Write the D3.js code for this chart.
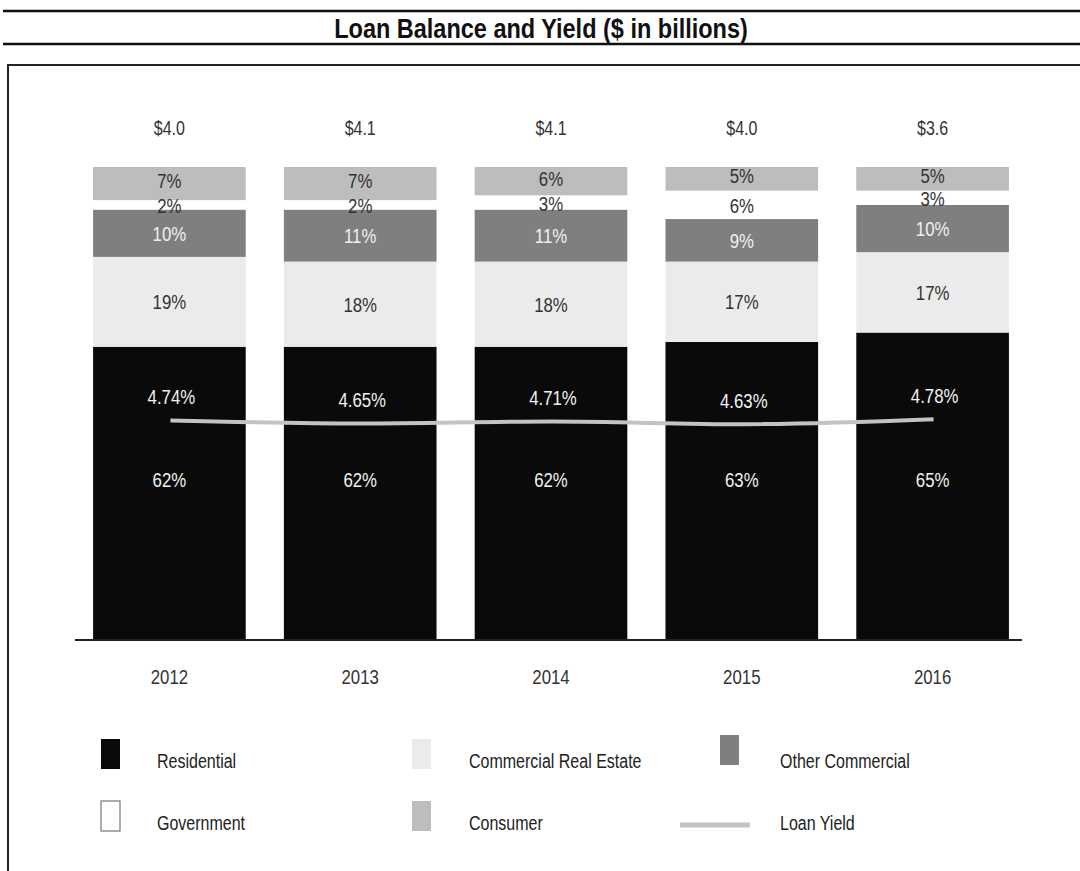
<!DOCTYPE html>
<html>
<head>
<meta charset="utf-8">
<script src="https://cdn.jsdelivr.net/npm/d3@7"></script>
<style>
  html, body { margin: 0; padding: 0; background: #fff; }
  svg { display: block; }
  text { font-family: "Liberation Sans Narrow", "Arial Narrow", "Liberation Sans", Arial, sans-serif; }
</style>
</head>
<body>
<svg id="chart" width="1080" height="871"></svg>
<script>
const years = ["2012", "2013", "2014", "2015", "2016"];
const totals = [4.0, 4.1, 4.1, 4.0, 3.6];
const residential = [62, 62, 62, 63, 65];
const commercialRealEstate = [19, 18, 18, 17, 17];
const otherCommercial = [10, 11, 11, 9, 10];
const government = [2, 2, 3, 6, 3];
const consumer = [7, 7, 6, 5, 5];
const loanYield = [4.74, 4.65, 4.71, 4.63, 4.78];
const seriesNames = ["Residential", "Commercial Real Estate", "Other Commercial", "Government", "Consumer"];

const fills = {
  "Residential": "#0a0a0a",
  "Commercial Real Estate": "#ebebeb",
  "Other Commercial": "#7f7f7f",
  "Government": "#ffffff",
  "Consumer": "#bdbdbd"
};
const labelColors = {
  "Residential": "#f2f2f2",
  "Commercial Real Estate": "#333333",
  "Other Commercial": "#f0f0f0",
  "Government": "#333333",
  "Consumer": "#333333"
};
const labelShift = {
  "Residential": 0,
  "Commercial Real Estate": 0,
  "Other Commercial": 0,
  "Government": 1,
  "Consumer": -3
};

const rows = years.map((y, i) => ({
  year: y,
  "Residential": residential[i],
  "Commercial Real Estate": commercialRealEstate[i],
  "Other Commercial": otherCommercial[i],
  "Government": government[i],
  "Consumer": consumer[i],
  total: totals[i],
  yield: loanYield[i]
}));

const svg = d3.select("#chart");

// condensed text helper: places text at (x,y) and squeezes horizontally
function ctext(parent, x, y, str, opts) {
  const o = Object.assign({ size: 20, sx: 0.82, anchor: "middle", fill: "#333", weight: "normal", dy: "0.35em" }, opts || {});
  return parent.append("text")
    .attr("transform", `translate(${x},${y}) scale(${o.sx},1)`)
    .attr("text-anchor", o.anchor)
    .attr("dy", o.dy)
    .attr("font-size", o.size)
    .attr("font-weight", o.weight)
    .attr("fill", o.fill)
    .text(str);
}

// frame lines
svg.append("line").attr("x1", 3).attr("x2", 1080).attr("y1", 11).attr("y2", 11)
  .attr("stroke", "#111").attr("stroke-width", 2.5);
svg.append("line").attr("x1", 3).attr("x2", 1080).attr("y1", 44).attr("y2", 44)
  .attr("stroke", "#111").attr("stroke-width", 2.5);
svg.append("path").attr("d", "M8,871 V65 H1080")
  .attr("fill", "none").attr("stroke", "#222").attr("stroke-width", 2);

ctext(svg, 541, 38, "Loan Balance and Yield ($ in billions)",
  { size: 27, sx: 0.87, weight: "bold", fill: "#111", dy: 0 });

const x = d3.scaleBand().domain(years).range([74, 1028]).paddingInner(0.2).paddingOuter(0.1);
const y = d3.scaleLinear().domain([0, 100]).range([640, 167]);
const yYield = d3.scaleLinear().domain([0, 10]).range([577, 247]);
const cx = yr => x(yr) + x.bandwidth() / 2;

const stacked = d3.stack().keys(seriesNames)(rows);

const g = svg.append("g");
stacked.forEach(layer => {
  const name = layer.key;
  g.selectAll(null).data(layer).enter().append("rect")
    .attr("x", d => x(d.data.year))
    .attr("width", x.bandwidth())
    .attr("y", d => y(d[1]))
    .attr("height", d => y(d[0]) - y(d[1]))
    .attr("fill", fills[name]);
});

// segment labels
stacked.forEach(layer => {
  const name = layer.key;
  layer.forEach(d => {
    const ly = (name === "Residential" ? y(34) : y((d[0] + d[1]) / 2)) + labelShift[name];
    ctext(g, cx(d.data.year), ly, (d[1] - d[0]) + "%",
      { size: 21, sx: 0.8, fill: labelColors[name] });
  });
});

// axis baseline
const axis = d3.axisBottom(x).tickSize(0).tickFormat("");
const axG = svg.append("g").attr("transform", "translate(0,640)").call(axis);
axG.select(".domain").attr("stroke", "#222").attr("stroke-width", 2)
  .attr("d", "M75,0H1022");
axG.selectAll(".tick").each(function (d) {
  ctext(d3.select(this), 0, 37, d, { size: 21, sx: 0.8, fill: "#333" });
});

// totals
rows.forEach(d => {
  ctext(svg, cx(d.year), 128, "$" + d.total.toFixed(1), { size: 20, sx: 0.8, fill: "#333" });
});

// yield line
const line = d3.line()
  .x(d => cx(d.year) + 1)
  .y(d => yYield(d.yield))
  .curve(d3.curveMonotoneX);
svg.append("path").datum(rows)
  .attr("d", line)
  .attr("fill", "none").attr("stroke", "#c3c3c3").attr("stroke-width", 4);

rows.forEach(d => {
  ctext(svg, cx(d.year) + 2, yYield(d.yield) - 24, d.yield.toFixed(2) + "%",
    { size: 21, sx: 0.8, fill: "#f2f2f2" });
});

// legend
const legendItems = [
  { name: "Residential", col: 0, row: 0, type: "rect" },
  { name: "Commercial Real Estate", col: 1, row: 0, type: "rect" },
  { name: "Other Commercial", col: 2, row: 0, type: "rect" },
  { name: "Government", col: 0, row: 1, type: "rect" },
  { name: "Consumer", col: 1, row: 1, type: "rect" },
  { name: "Loan Yield", col: 2, row: 1, type: "line" }
];
const colSwatchX = [101, 412, 720];
const colTextX = [157, 469, 780];
const rowY = [739, 801];
const lg = svg.append("g");
legendItems.forEach(it => {
  const sx = colSwatchX[it.col], ty = rowY[it.row];
  if (it.type === "rect") {
    lg.append("rect").attr("x", sx).attr("y", it.col === 2 ? ty - 4 : ty)
      .attr("width", 19).attr("height", 30)
      .attr("fill", fills[it.name])
      .attr("stroke", it.name === "Government" ? "#777" : "none")
      .attr("stroke-width", 1.2);
  } else {
    lg.append("line").attr("x1", 680).attr("x2", 750).attr("y1", ty + 24).attr("y2", ty + 24)
      .attr("stroke", "#c3c3c3").attr("stroke-width", 5);
  }
  ctext(lg, colTextX[it.col], ty + 22, it.name,
    { size: 20, sx: 0.8, anchor: "start", fill: "#222" });
});
</script>
</body>
</html>
